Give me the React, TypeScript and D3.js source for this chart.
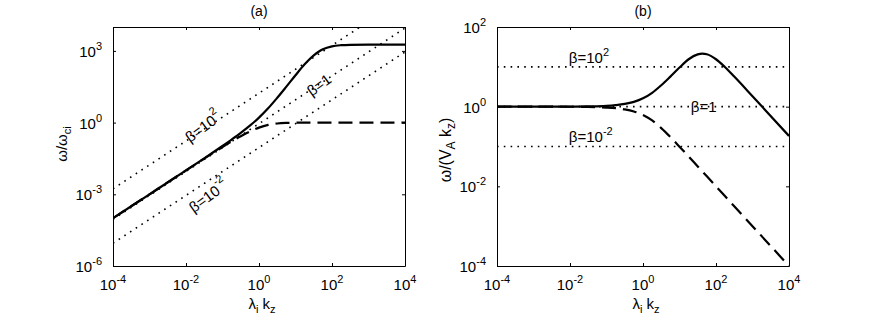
import React, { useRef, useEffect } from 'react';
import * as d3 from 'd3';

// lambda_i k_z sample points (shared by both panels)
const kz = [1e-4, 1e-3, 1e-2, 0.0316, 0.1, 0.178, 0.316, 0.562, 1, 1.78, 3.16, 5.62, 10, 17.8, 31.6, 42, 56.2, 100, 178, 316, 1000, 1e4];

// panel (a): omega / omega_ci
const whistlerA = [1e-4, 1e-3, 0.01, 0.0321, 0.105, 0.195, 0.37, 0.742, 1.62, 3.96, 10.9, 32, 96, 275, 648, 900, 1162, 1551, 1735, 1803, 1833, 1836];
const cyclotronA = [1e-4, 1e-3, 0.00995, 0.0311, 0.0951, 0.163, 0.27, 0.426, 0.618, 0.8, 0.916, 0.97, 0.99, 0.997, 0.999, 1, 1, 1, 1, 1, 1, 1];

// panel (b): omega / (V_A k_z)
const whistlerB = [1, 1, 1.005, 1.016, 1.05, 1.095, 1.17, 1.32, 1.62, 2.23, 3.45, 5.69, 9.6, 15.5, 20.5, 21.4, 20.7, 15.5, 9.75, 5.7, 1.83, 0.184];
const cyclotronB = [1, 1, 0.995, 0.984, 0.951, 0.916, 0.854, 0.758, 0.618, 0.45, 0.29, 0.173, 0.099, 0.056, 0.0316, 0.0238, 0.0178, 0.01, 0.0056, 0.00316, 0.001, 0.0001];

// beta reference lines in panel (a): [k, omega] end points
const betaHighA = [[1e-4, 1.7e-3], [1e4, 1.7e5]];
const betaOneA = [[1e-4, 0.9e-4], [1e4, 0.9e4]];
const betaLowA = [[1e-4, 9e-6], [1e4, 9e2]];

// beta reference levels in panel (b)
const betaLevelsB = [10, 1, 0.1];

// tick exponents
const xTicks = [-4, -2, 0, 2, 4];
const yTicksA = [-6, -3, 0, 3];
const yTicksB = [-4, -2, 0, 2];

const font = 'Liberation Sans, Arial, Helvetica, sans-serif';
const top = 27;
const bottom = 266;

export default function App() {
  const svgRef = useRef<SVGSVGElement>(null);

  useEffect(() => {
    const svg = d3.select(svgRef.current);
    svg.selectAll('*').remove();

    const panel = (id: string, left: number, right: number, yDomain: number[], yTicks: number[], title: string) => {
      const x = d3.scaleLog().domain([1e-4, 1e4]).range([left, right]);
      const y = d3.scaleLog().domain(yDomain).range([bottom, top]);
      const g = svg.append('g').attr('font-family', font).attr('fill', '#000');

      g.append('clipPath').attr('id', id)
        .append('rect').attr('x', left).attr('y', top).attr('width', right - left).attr('height', bottom - top);
      const plot = g.append('g').attr('clip-path', `url(#${id})`);

      const xv = xTicks.map(e => 10 ** e);
      const yv = yTicks.map(e => 10 ** e);
      const blank = () => '';

      // box with inward ticks on all four sides
      g.append('g').attr('transform', `translate(0,${bottom})`)
        .call(d3.axisBottom(x).tickValues(xv).tickSize(-3).tickSizeOuter(0).tickFormat(blank));
      g.append('g').attr('transform', `translate(0,${top})`)
        .call(d3.axisTop(x).tickValues(xv).tickSize(-3).tickSizeOuter(0).tickFormat(blank));
      g.append('g').attr('transform', `translate(${left},0)`)
        .call(d3.axisLeft(y).tickValues(yv).tickSize(-3).tickSizeOuter(0).tickFormat(blank));
      g.append('g').attr('transform', `translate(${right},0)`)
        .call(d3.axisRight(y).tickValues(yv).tickSize(-3).tickSizeOuter(0).tickFormat(blank));
      g.selectAll('.domain, .tick line').attr('stroke', '#000');

      // tick labels as 10^n
      xTicks.forEach(e => {
        const t = g.append('text').attr('x', x(10 ** e)).attr('y', 290)
          .attr('text-anchor', 'middle').attr('font-size', 15);
        t.append('tspan').text('10');
        t.append('tspan').attr('dy', -7).attr('font-size', 11).text(String(e));
      });
      yTicks.forEach(e => {
        const t = g.append('text').attr('x', left - 11).attr('y', y(10 ** e) + 6)
          .attr('text-anchor', 'end').attr('font-size', 15);
        t.append('tspan').text('10');
        t.append('tspan').attr('dy', -7).attr('font-size', 11).text(String(e));
      });

      g.append('text').attr('x', (left + right) / 2).attr('y', 16)
        .attr('text-anchor', 'middle').attr('font-size', 14).text(title);

      const xl = g.append('text').attr('x', (left + right) / 2 + 3).attr('y', 309)
        .attr('text-anchor', 'middle').attr('font-size', 15);
      xl.append('tspan').text('λ');
      xl.append('tspan').attr('dy', 4).attr('font-size', 11).text('i');
      xl.append('tspan').attr('dy', -4).text(' k');
      xl.append('tspan').attr('dy', 4).attr('font-size', 11).text('z');

      return { x, y, g, plot };
    };

    const dotted = (sel: any) => sel.attr('fill', 'none').attr('stroke', '#000')
      .attr('stroke-width', 1.6).attr('stroke-dasharray', '1.6,5.2');

    const betaText = (g: any, base: string, sup: string) => {
      const t = g.append('text').attr('font-size', 15);
      t.append('tspan').text(base);
      if (sup) t.append('tspan').attr('dy', -7).attr('font-size', 11).text(sup);
      return t;
    };

    // ---------- panel (a)
    const a = panel('clipA', 113, 405, [1e-6, 1e4], yTicksA, '(a)');
    const segA = d3.line<number[]>().x(d => a.x(d[0])).y(d => a.y(d[1]));
    [betaHighA, betaOneA, betaLowA].forEach(pts => {
      a.plot.append('path').datum(pts).attr('d', segA).call(dotted);
    });
    const curveA = d3.line<number>().x((_, i) => a.x(kz[i])).y(d => a.y(d)).curve(d3.curveMonotoneX);
    a.plot.append('path').datum(cyclotronA).attr('d', curveA)
      .attr('fill', 'none').attr('stroke', '#000').attr('stroke-width', 2.2).attr('stroke-dasharray', '14,7');
    a.plot.append('path').datum(whistlerA).attr('d', curveA)
      .attr('fill', 'none').attr('stroke', '#000').attr('stroke-width', 2.2);

    const labelsA = [
      { k: 0.0288, w: 0.7, base: 'β=10', sup: '2' },
      { k: 42.7, w: 40, base: 'β=1', sup: '' },
      { k: 0.04, w: 9e-4, base: 'β=10', sup: '-2' },
    ];
    labelsA.forEach(l => {
      betaText(a.g, l.base, l.sup)
        .attr('text-anchor', 'middle').attr('dominant-baseline', 'central')
        .attr('transform', `translate(${a.x(l.k)},${a.y(l.w)}) rotate(-36)`);
    });

    const ylA = a.g.append('text').attr('font-size', 15).attr('text-anchor', 'middle')
      .attr('transform', 'translate(67,144) rotate(-90)');
    ylA.append('tspan').text('ω/ω');
    ylA.append('tspan').attr('dy', 4).attr('font-size', 11).text('ci');

    // ---------- panel (b)
    const b = panel('clipB', 497, 789, [1e-4, 1e2], yTicksB, '(b)');
    betaLevelsB.forEach(v => {
      b.plot.append('line').attr('x1', b.x(1e-4)).attr('x2', b.x(1e4))
        .attr('y1', b.y(v)).attr('y2', b.y(v)).call(dotted);
    });
    const curveB = d3.line<number>().x((_, i) => b.x(kz[i])).y(d => b.y(d)).curve(d3.curveMonotoneX);
    b.plot.append('path').datum(cyclotronB).attr('d', curveB)
      .attr('fill', 'none').attr('stroke', '#000').attr('stroke-width', 2.2).attr('stroke-dasharray', '14,7');
    b.plot.append('path').datum(whistlerB).attr('d', curveB)
      .attr('fill', 'none').attr('stroke', '#000').attr('stroke-width', 2.2);

    const labelsB = [
      { k: 0.0093, w: 12.3, base: 'β=10', sup: '2' },
      { k: 20.4, w: 0.72, base: 'β=1', sup: '' },
      { k: 0.0093, w: 0.13, base: 'β=10', sup: '-2' },
    ];
    labelsB.forEach(l => {
      betaText(b.g, l.base, l.sup).attr('x', b.x(l.k)).attr('y', b.y(l.w));
    });

    const ylB = b.g.append('text').attr('font-size', 16).attr('text-anchor', 'middle')
      .attr('transform', 'translate(451,150) rotate(-90)');
    ylB.append('tspan').text('ω/(V');
    ylB.append('tspan').attr('dy', 4).attr('font-size', 12).text('A');
    ylB.append('tspan').attr('dy', -4).text(' k');
    ylB.append('tspan').attr('dy', 4).attr('font-size', 12).text('z');
    ylB.append('tspan').attr('dy', -4).text(')');
  }, []);

  return (
    <svg ref={svgRef} width={872} height={321}
      style={{ position: 'absolute', left: 0, top: 0, background: '#fff' }} />
  );
}
